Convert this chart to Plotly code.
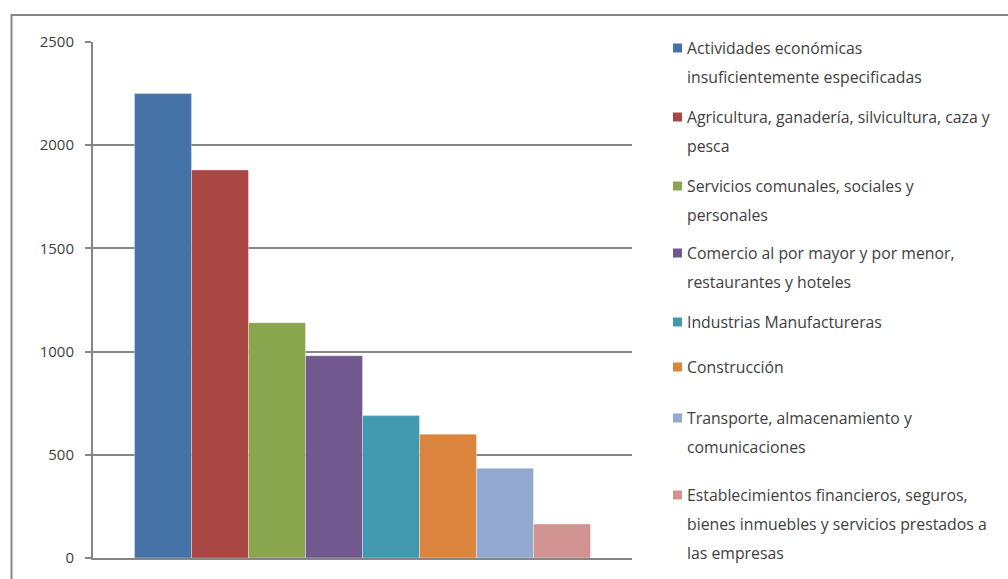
import plotly.graph_objects as go

# Población ocupada por rama de actividad económica
categories = [
    "Actividades económicas insuficientemente especificadas",
    "Agricultura, ganadería, silvicultura, caza y pesca",
    "Servicios comunales, sociales y personales",
    "Comercio al por mayor y por menor, restaurantes y hoteles",
    "Industrias Manufactureras",
    "Construcción",
    "Transporte, almacenamiento y comunicaciones",
    "Establecimientos financieros, seguros, bienes inmuebles y servicios prestados a las empresas",
]
values = [2250, 1880, 1140, 980, 690, 600, 435, 165]
colors = ["#4572A7", "#AA4643", "#89A54E", "#71588F",
          "#4198AF", "#DB843D", "#93A9CF", "#D19392"]

# Legend text, wrapped line by line
legend_lines = [
    ["Actividades económicas", "insuficientemente especificadas"],
    ["Agricultura, ganadería, silvicultura, caza y", "pesca"],
    ["Servicios comunales, sociales y", "personales"],
    ["Comercio al por mayor y por menor,", "restaurantes y hoteles"],
    ["Industrias Manufactureras"],
    ["Construcción"],
    ["Transporte, almacenamiento y", "comunicaciones"],
    ["Establecimientos financieros, seguros,", "bienes inmuebles y servicios prestados a", "las empresas"],
]
y_ticks = [0, 500, 1000, 1500, 2000, 2500]

W, H = 1008, 579
L, R, T, B = 93, 376, 42, 21
pw, ph = W - L - R, H - T - B
FONT = "Open Sans, Noto Sans, sans-serif"
GRID = "#868686"
TXT = "#404040"


def px_x(x):
    return (x - L) / pw


def px_y(y):
    return (H - B - y) / ph


fig = go.Figure()
for name, v, c in zip(categories, values, colors):
    fig.add_trace(go.Bar(
        x=[0], y=[v], name=name, marker_color=c,
        marker_line=dict(color="rgba(255,255,255,0.35)", width=1),
        showlegend=False,
    ))

shapes = [
    # outer chart frame
    dict(type="rect", xref="paper", yref="paper",
         x0=px_x(11.5), x1=px_x(1030), y0=px_y(15), y1=px_y(620),
         line=dict(color=GRID, width=2), layer="below"),
]
annotations = []

# Hand-built legend: square marker plus wrapped text lines
first_line_y = [48, 117, 186, 253, 322, 367, 418, 495]
line_step = 29
for lines, c, y0 in zip(legend_lines, colors, first_line_y):
    shapes.append(dict(type="rect", xref="paper", yref="paper",
                       x0=px_x(673), x1=px_x(682),
                       y0=px_y(y0 + 4.5), y1=px_y(y0 - 4.5),
                       fillcolor=c, line=dict(width=0)))
    for i, txt in enumerate(lines):
        annotations.append(dict(
            text=txt, xref="paper", yref="paper",
            x=px_x(685), y=px_y(y0 + i * line_step),
            xanchor="left", yanchor="middle", showarrow=False,
            font=dict(family=FONT, size=15.8, color=TXT),
        ))

fig.update_layout(
    width=W, height=H,
    margin=dict(l=L, r=R, t=T, b=B, pad=0),
    paper_bgcolor="white", plot_bgcolor="white",
    barmode="group", bargap=0.154, bargroupgap=0,
    shapes=shapes, annotations=annotations,
    font=dict(family=FONT, size=15, color=TXT),
)
fig.update_xaxes(
    range=[-0.5, 0.5], showticklabels=False, ticks="",
    showgrid=False, zeroline=False,
    showline=True, linecolor=GRID, linewidth=2,
)
fig.update_yaxes(
    range=[0, 2500], tickvals=y_ticks,
    ticks="outside", ticklen=6, tickwidth=1.5, tickcolor=GRID,
    ticklabelstandoff=8,
    showgrid=True, gridcolor=GRID, gridwidth=1.5,
    zeroline=False, showline=True, linecolor=GRID, linewidth=2,
    tickfont=dict(family=FONT, size=15, color=TXT),
)

fig.write_html("out.html")
